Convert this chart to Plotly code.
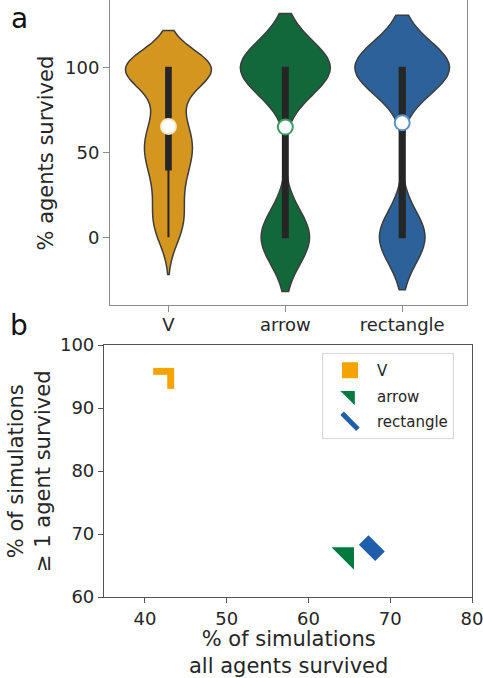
import numpy as np
import plotly.graph_objects as go

# ---------------- data ----------------
categories = ["V", "arrow", "rectangle"]
survival_levels = [0, 10, 20, 30, 40, 50, 60, 70, 80, 90, 100]
counts_V = [2, 3, 2, 2, 3, 4, 4, 2, 2, 1, 16]
counts_arrow = [14, 0, 0, 0, 0, 0, 0, 0, 0, 0, 26]
counts_rectangle = [13, 0, 0, 0, 0, 0, 0, 0, 0, 0, 27]

pct_all_survived = [42.3, 64.65, 67.75]     # x of panel b
pct_one_survived = [94.7, 66.7, 67.75]      # y of panel b

# ---------------- style ----------------
violin_fill = ["#D4961F", "#12683B", "#2C6299"]
dot_edge = ["#F6E7C6", "#3C9A62", "#5B91CB"]
scatter_col = ["#F4A300", "#007A3D", "#1F5EAA"]
violin_widths = [0.73, 0.77, 0.81]
bandwidths = [11, 16, 15.5]
FONT = "DejaVu Sans"
W, H = 483, 678

def px_x(p):
    return p / W

def px_y(p):
    return 1 - p / H

counts_all = [counts_V, counts_arrow, counts_rectangle]
samples = [np.repeat(survival_levels, c).astype(float) for c in counts_all]

fig = go.Figure()

# ---------------- panel a: violins ----------------
for i, cat in enumerate(categories):
    fig.add_trace(go.Violin(
        x=[cat] * len(samples[i]), y=samples[i],
        xaxis="x", yaxis="y",
        fillcolor=violin_fill[i], opacity=1,
        line=dict(color="#3d3d3d", width=1.5),
        width=violin_widths[i], bandwidth=bandwidths[i],
        points=False, spanmode="soft",
        box=dict(visible=True, width=0.055, fillcolor="#262626",
                 line=dict(color="#262626", width=2)),
        meanline=dict(visible=False),
        showlegend=False, hoverinfo="skip",
    ))

means = [float(np.mean(s)) for s in samples]
for i, cat in enumerate(categories):
    fig.add_trace(go.Scatter(
        x=[cat], y=[means[i]], xaxis="x", yaxis="y", mode="markers",
        marker=dict(symbol="circle", size=15, color="white",
                    line=dict(color=dot_edge[i], width=2)),
        showlegend=False, hoverinfo="skip",
    ))

# ---------------- panel b: scatter ----------------
fig.add_trace(go.Scatter(
    x=[pct_all_survived[0]], y=[pct_one_survived[0]], xaxis="x2", yaxis="y2",
    mode="markers", name=categories[0], legendgroup="g0",
    marker=dict(symbol="square", size=21, color=scatter_col[0]),
))
# white notch that turns the square into a corner shape
fig.add_trace(go.Scatter(
    x=[pct_all_survived[0]], y=[pct_one_survived[0]], xaxis="x2", yaxis="y2",
    mode="markers", showlegend=False, hoverinfo="skip", legendgroup="g0",
    marker=dict(symbol="diamond", size=16.5, color="white", angle=45, standoff=5.7),
))
fig.add_trace(go.Scatter(
    x=[pct_all_survived[1]], y=[pct_one_survived[1]], xaxis="x2", yaxis="y2",
    mode="markers", name=categories[1], legendgroup="g1",
    marker=dict(symbol="triangle-ne", size=25, color=scatter_col[1]),
))
fig.add_trace(go.Scatter(
    x=[pct_all_survived[2]], y=[pct_one_survived[2]], xaxis="x2", yaxis="y2",
    mode="markers", name=categories[2], legendgroup="g2",
    marker=dict(symbol="line-ew-open", size=16.5, color=scatter_col[2], angle=45,
                line=dict(width=13.5, color=scatter_col[2])),
))

tickfont = dict(family=FONT, size=18, color="#262626")
common = dict(showline=True, mirror=True, ticks="outside", showgrid=False,
              zeroline=False, tickfont=tickfont, automargin=False,
              ticklabeloverflow="allow")
axis_a = dict(common, linecolor="#8c8c8c", linewidth=1, ticklen=6, tickcolor="#8c8c8c")
axis_b = dict(common, linecolor="#555555", linewidth=1.2, ticklen=5, tickcolor="#555555")

fig.update_layout(
    width=W, height=H, margin=dict(l=0, r=0, t=0, b=0, autoexpand=False),
    paper_bgcolor="white", plot_bgcolor="white",
    font=dict(family=FONT, color="#262626"),
    violinmode="overlay",
    xaxis=dict(axis_a, domain=[px_x(110), px_x(466.5)], anchor="y",
               type="category", categoryorder="array", categoryarray=categories,
               range=[-0.5, 2.55], ticklabelstandoff=-3),
    yaxis=dict(axis_a, domain=[px_y(305), 1.0], anchor="x",
               range=[-40, 140], tickvals=[0, 50, 100]),
    xaxis2=dict(axis_b, domain=[px_x(104), px_x(472)], anchor="y2",
                range=[35, 80], tickvals=[40, 50, 60, 70, 80]),
    yaxis2=dict(axis_b, domain=[px_y(597), px_y(345)], anchor="x2",
                range=[60, 100], tickvals=[60, 70, 80, 90, 100]),
    legend=dict(x=px_x(322), y=px_y(353), xanchor="left", yanchor="top",
                bgcolor="white", bordercolor="#d5d5d5", borderwidth=1,
                font=dict(family=FONT, size=15, color="#262626"),
                tracegroupgap=3, itemwidth=44),
    showlegend=True,
)

title_font = dict(family=FONT, size=21, color="#262626")
ann = [
    dict(text="% agents survived", x=px_x(45), y=px_y(153.5), textangle=-90),
    dict(text="% of simulations<br>≥ 1 agent survived", x=px_x(29), y=px_y(472),
         textangle=-90),
    dict(text="% of simulations<br>all agents survived", x=px_x(288), y=px_y(652)),
]
for a in ann:
    fig.add_annotation(xref="paper", yref="paper", showarrow=False,
                       xanchor="center", yanchor="middle", font=title_font, **a)
fig.add_annotation(text="a", xref="paper", yref="paper", x=px_x(19), y=1.0,
                   showarrow=False, xanchor="center", yanchor="top",
                   font=dict(family=FONT, size=28, color="#111111"))
fig.add_annotation(text="b", xref="paper", yref="paper", x=px_x(19), y=px_y(325),
                   showarrow=False, xanchor="center", yanchor="middle",
                   font=dict(family=FONT, size=28, color="#111111"))

fig.write_html("out.html")
